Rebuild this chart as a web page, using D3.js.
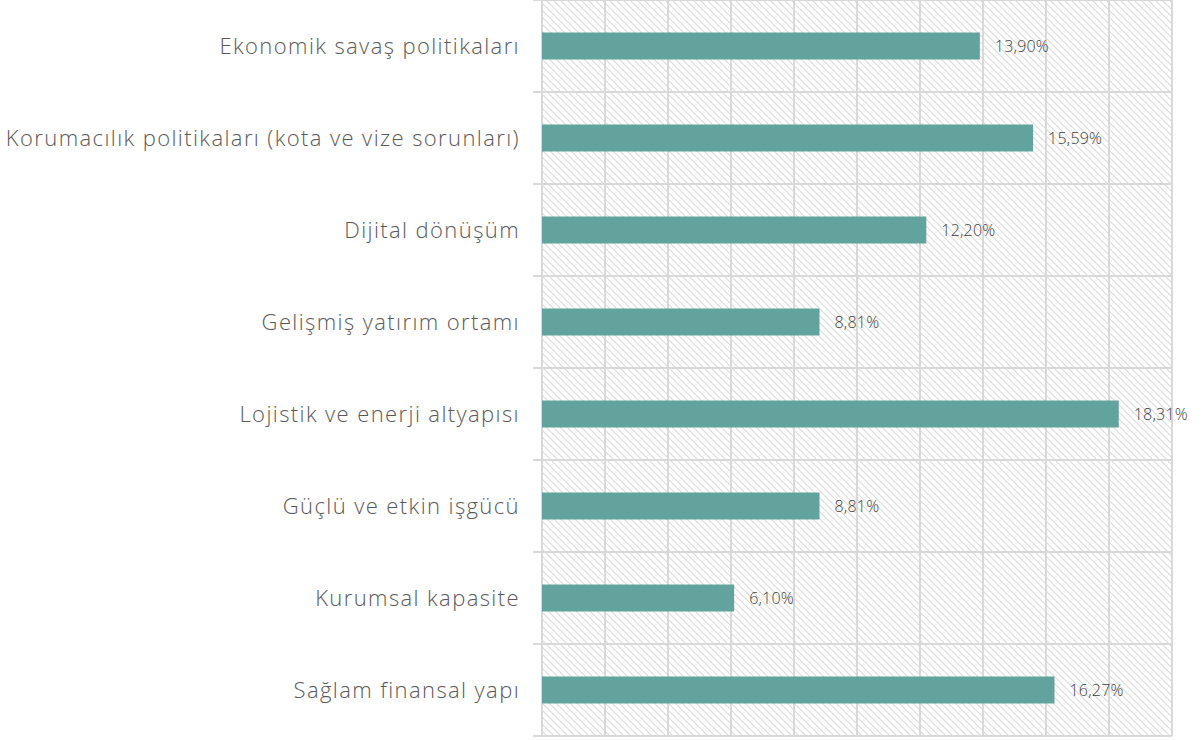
<!DOCTYPE html>
<html><head><meta charset="utf-8">
<script src="https://cdn.jsdelivr.net/npm/d3@7"></script>
<style>body{margin:0;background:#fff;}svg{display:block;}</style>
</head><body>
<script>
const categories = ["Ekonomik savaş politikaları","Korumacılık politikaları (kota ve vize sorunları)","Dijital dönüşüm","Gelişmiş yatırım ortamı","Lojistik ve enerji altyapısı","Güçlü ve etkin işgücü","Kurumsal kapasite","Sağlam finansal yapı"];
const values = [13.90,15.59,12.20,8.81,18.31,8.81,6.10,16.27];
const valueLabels = ["13,90%","15,59%","12,20%","8,81%","18,31%","8,81%","6,10%","16,27%"];
const xTicks = [0,2,4,6,8,10,12,14,16,18,20];

const W=1201,H=740;
const m={left:542,right:29,top:0,bottom:4};
const svg=d3.select("body").append("svg").attr("width",W).attr("height",H);
const defs=svg.append("defs");
const pat=defs.append("pattern").attr("id","hatch").attr("patternUnits","userSpaceOnUse")
  .attr("width",7).attr("height",7);
pat.append("path").attr("d","M-1,-1 L8,8 M-1,6 L1,8 M6,-1 L8,1").attr("stroke","#dcdcdc").attr("stroke-width",1.1);

const x=d3.scaleLinear().domain([0,20]).range([m.left,W-m.right]);
const y=d3.scaleBand().domain(categories).range([m.top,H-m.bottom]);

svg.append("rect").attr("x",x(0)).attr("y",y.range()[0]).attr("width",x(20)-x(0)).attr("height",y.range()[1]-y.range()[0]).attr("fill","url(#hatch)");

const grid="#d9d9d9";
svg.append("g").selectAll("line").data(xTicks).join("line")
  .attr("x1",d=>x(d)).attr("x2",d=>x(d)).attr("y1",y.range()[0]).attr("y2",y.range()[1])
  .attr("stroke",grid).attr("stroke-width",2);
const hb=[...categories.map(c=>y(c)),y.range()[1]];
svg.append("g").selectAll("line").data(hb).join("line")
  .attr("x1",x(0)-9).attr("x2",x(20)).attr("y1",d=>d).attr("y2",d=>d)
  .attr("stroke",grid).attr("stroke-width",2);

const bh=27;
svg.append("g").selectAll("rect").data(values).join("rect")
  .attr("x",x(0)).attr("y",(d,i)=>y(categories[i])+y.bandwidth()/2-bh/2)
  .attr("width",d=>x(d)-x(0)).attr("height",bh).attr("fill","#62a39e");

svg.append("g").selectAll("text").data(values).join("text")
  .attr("x",d=>x(d)+15).attr("y",(d,i)=>y(categories[i])+y.bandwidth()/2)
  .attr("dy","0.36em").attr("font-family","'Open Sans', sans-serif").attr("font-weight",300).attr("font-size",16)
  .attr("letter-spacing",0.2)
  .attr("fill","#404040").text((d,i)=>valueLabels[i]);

svg.append("g").selectAll("text").data(categories).join("text")
  .attr("x",520).attr("y",d=>y(d)+y.bandwidth()/2).attr("dy","0.36em")
  .attr("text-anchor","end").attr("font-family","'Open Sans', sans-serif").attr("font-weight",300).attr("font-size",22)
  .attr("letter-spacing",1.4)
  .attr("fill","#595959").text(d=>d);
</script>
</body></html>
